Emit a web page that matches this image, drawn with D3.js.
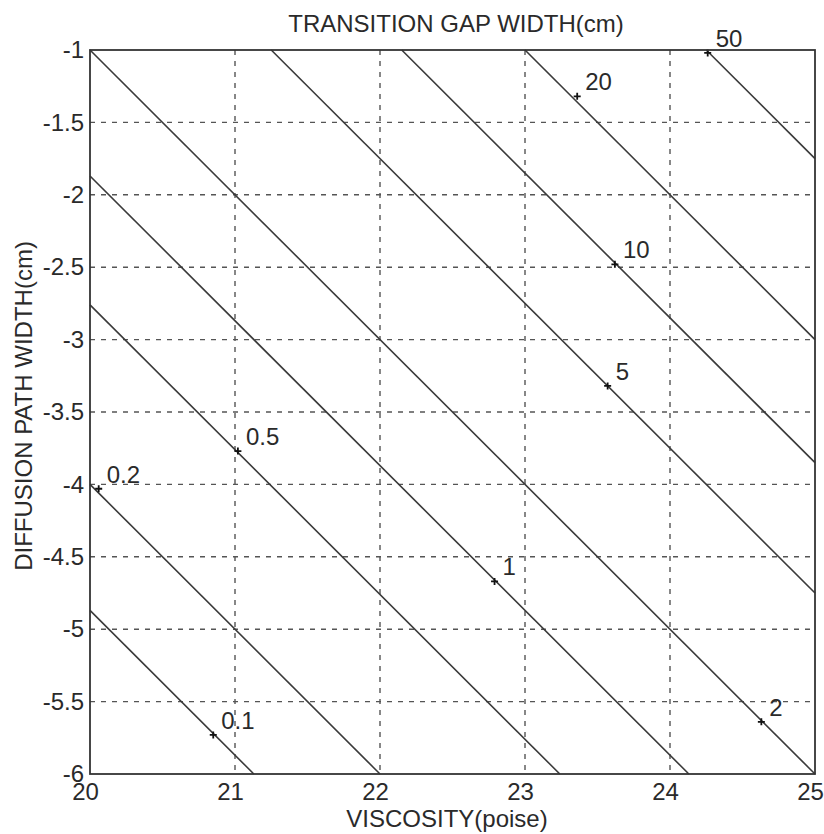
<!DOCTYPE html>
<html>
<head>
	<meta charset="utf-8" />
	<title>Transition Gap Width</title>
	<script src="https://d3js.org/d3.v7.min.js"></script>
	<style type="text/css">
		body { margin: 0; background: #fff; }
		text { font-family: "Liberation Sans", Arial, sans-serif; fill: #2a2a2a; }
		.grid line { stroke: #555; stroke-width: 1.4; stroke-dasharray: 5,6; }
		.axis path, .axis line { display: none; }
	</style>
</head>
<body>
	<script>
		// x / y ticks
		const xTicks = [20, 21, 22, 23, 24, 25];
		const xTickLabels = ["20", "21", "22", "23", "24", "25"];
		const yTicks = [-1, -1.5, -2, -2.5, -3, -3.5, -4, -4.5, -5, -5.5, -6];
		const yTickLabels = ["-1", "-1.5", "-2", "-2.5", "-3", "-3.5", "-4", "-4.5", "-5", "-5.5", "-6"];

		// contour lines (gap width), endpoints
		const levels = ["0.1", "0.2", "0.5", "1", "2", "5", "10", "20", "50"];
		const startX = [20, 20, 20, 20, 20, 21.25, 22.15, 23.0, 24.25];
		const startY = [-4.87, -4.0, -2.76, -1.87, -1, -1, -1, -1, -1];
		const endX = [21.13, 22.0, 23.24, 24.13, 25, 25, 25, 25, 25];
		const endY = [-6, -6, -6, -6, -6, -4.75, -3.85, -3.0, -1.75];

		// "+" label markers on each line
		const markX = [20.85, 20.06, 21.02, 22.79, 24.63, 23.57, 23.62, 23.36, 24.26];
		const markY = [-5.73, -4.03, -3.77, -4.67, -5.64, -3.32, -2.48, -1.32, -1.02];

		const width = 824;
		const height = 834;
		const margin = {left: 90, right: 9, top: 50, bottom: 60};
		const fs = 24;

		const svg = d3.select("body")
			.append("svg")
			.attr("width", width)
			.attr("height", height);

		const x = d3.scaleLinear()
			.domain([20, 25])
			.range([margin.left, width - margin.right]);
		const y = d3.scaleLinear()
			.domain([-6, -1])
			.range([height - margin.bottom, margin.top]);

		// dotted grid
		const grid = svg.append("g").attr("class", "grid");
		grid.selectAll(".gx")
			.data(xTicks.slice(1, -1))
			.enter()
			.append("line")
			.attr("x1", d => x(d)).attr("x2", d => x(d))
			.attr("y1", y(-1)).attr("y2", y(-6));
		grid.selectAll(".gy")
			.data(yTicks.slice(1, -1))
			.enter()
			.append("line")
			.attr("x1", x(20)).attr("x2", x(25))
			.attr("y1", d => y(d)).attr("y2", d => y(d));

		// contour lines
		svg.selectAll(".contour")
			.data(levels)
			.enter()
			.append("line")
			.attr("class", "contour")
			.attr("x1", (d, i) => x(startX[i]))
			.attr("y1", (d, i) => y(startY[i]))
			.attr("x2", (d, i) => x(endX[i]))
			.attr("y2", (d, i) => y(endY[i]))
			.attr("stroke", "#3a3a3a")
			.attr("stroke-width", 1.6);

		// markers
		const marks = svg.selectAll(".mark")
			.data(levels)
			.enter()
			.append("g")
			.attr("transform", (d, i) => "translate(" + x(markX[i]) + "," + y(markY[i]) + ")");
		marks.append("path")
			.attr("d", "M-3.5,0H3.5M0,-3.5V3.5")
			.attr("stroke", "#111")
			.attr("stroke-width", 1.8);
		marks.append("text")
			.attr("x", 8)
			.attr("y", -6)
			.attr("font-size", fs)
			.text(d => d);

		// axis box
		svg.append("rect")
			.attr("x", x(20))
			.attr("y", y(-1))
			.attr("width", x(25) - x(20))
			.attr("height", y(-6) - y(-1))
			.attr("fill", "none")
			.attr("stroke", "#333")
			.attr("stroke-width", 1.8);

		// tick labels (bottom row sits a little left in the scan)
		svg.append("g")
			.attr("class", "axis")
			.attr("transform", "translate(-5," + y(-6) + ")")
			.call(d3.axisBottom(x).tickValues(xTicks).tickSize(0).tickPadding(9)
				.tickFormat((d, i) => xTickLabels[i]))
			.selectAll("text")
			.attr("font-size", fs)
			.attr("fill", "#2a2a2a");
		svg.append("g")
			.attr("class", "axis")
			.attr("transform", "translate(" + x(20) + ",0)")
			.call(d3.axisLeft(y).tickValues(yTicks).tickSize(0).tickPadding(6)
				.tickFormat((d, i) => yTickLabels[i]))
			.selectAll("text")
			.attr("font-size", fs)
			.attr("fill", "#2a2a2a");

		// titles
		svg.append("text")
			.attr("x", 456)
			.attr("y", 32)
			.attr("text-anchor", "middle")
			.attr("font-size", fs)
			.text("TRANSITION GAP WIDTH(cm)");
		svg.append("text")
			.attr("x", 447)
			.attr("y", 827)
			.attr("text-anchor", "middle")
			.attr("font-size", fs)
			.text("VISCOSITY(poise)");
		svg.append("text")
			.attr("transform", "translate(32,406) rotate(-90)")
			.attr("text-anchor", "middle")
			.attr("font-size", fs)
			.text("DIFFUSION PATH WIDTH(cm)");
	</script>
</body>
</html>
